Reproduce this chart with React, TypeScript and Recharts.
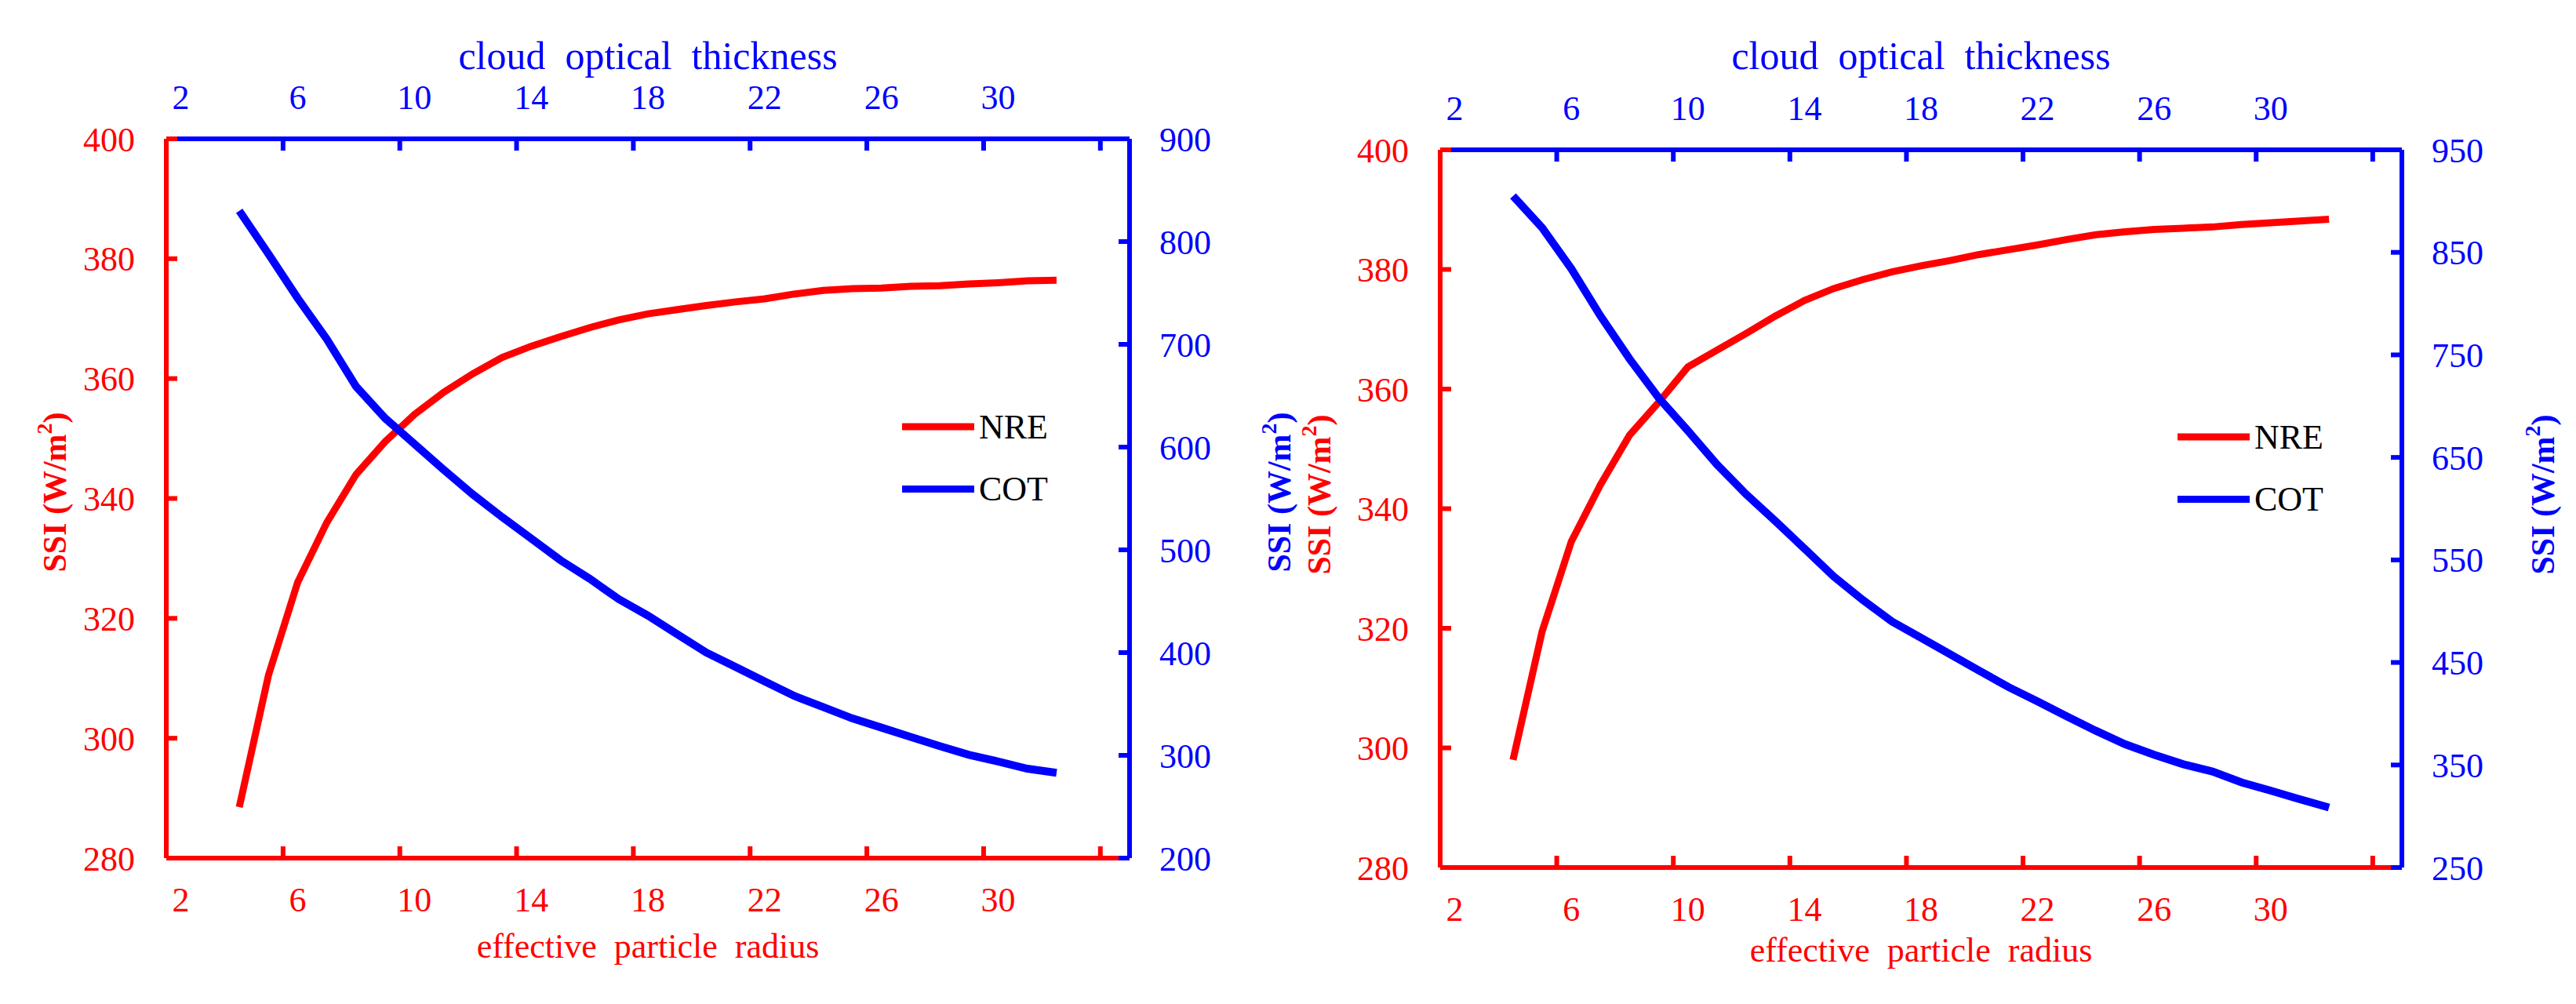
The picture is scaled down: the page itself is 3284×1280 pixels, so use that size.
import React from 'react';
import { LineChart, Line, XAxis, YAxis, Legend } from 'recharts';

const FONT = '"Liberation Serif", "Times New Roman", serif';
const RED = '#FF0000';
const BLUE = '#0000FF';

// x categories (effective particle radius on the bottom axis, cloud optical thickness on the top axis)
const effectiveRadius = [4, 5, 6, 7, 8, 9, 10, 11, 12, 13, 14, 15, 16, 17, 18, 19, 20, 21, 22, 23, 24, 25, 26, 27, 28, 29, 30, 31, 32];
const opticalThickness = [4, 5, 6, 7, 8, 9, 10, 11, 12, 13, 14, 15, 16, 17, 18, 19, 20, 21, 22, 23, 24, 25, 26, 27, 28, 29, 30, 31, 32];

// left panel
const nreLeft = [288.5, 310.5, 326, 336, 344, 349.5, 354, 357.7, 360.8, 363.5, 365.4, 367, 368.5, 369.8, 370.8, 371.5, 372.2, 372.8, 373.3, 374.1, 374.7, 375.0, 375.1, 375.4, 375.5, 375.8, 376.0, 376.3, 376.4];
const cotLeft = [830, 788, 745, 705, 659, 628, 603, 578, 554, 532, 511, 490, 472, 452, 436, 418, 400, 386, 372, 358, 347, 336, 327, 318, 309, 300.5, 294, 287, 283];

// right panel
const nreRight = [298, 319.5, 334.5, 344, 352.3, 357.8, 363.7, 366.5, 369.3, 372.2, 374.8, 376.8, 378.3, 379.6, 380.6, 381.5, 382.5, 383.3, 384.1, 385.0, 385.8, 386.3, 386.7, 386.9, 387.1, 387.5, 387.8, 388.1, 388.4];
const cotRight = [905, 874, 834, 788, 746, 708, 676, 643, 614, 588, 561, 534, 511, 490, 474, 458, 442, 426, 412, 397.5, 383.4, 370.3, 360, 350.7, 343.7, 333, 325, 316.6, 308.5];

// axes
const xDomain = [1.5, 34.5];
const xTickLabels = [2, 6, 10, 14, 18, 22, 26, 30];
const xTickMarks = [5.5, 9.5, 13.5, 17.5, 21.5, 25.5, 29.5, 33.5];
const nreTicks = [280, 300, 320, 340, 360, 380, 400];
const cotTicksLeft = [200, 300, 400, 500, 600, 700, 800, 900];
const cotTicksRight = [250, 350, 450, 550, 650, 750, 850, 950];
const legendOrder = ['NRE', 'COT'];

const xAxisTicks = [...xTickLabels, ...xTickMarks].sort((a, b) => a - b);

const leftRows = effectiveRadius.map((r, i) => ({ radius: r, tau: opticalThickness[i], nre: nreLeft[i], cot: cotLeft[i] }));
const rightRows = effectiveRadius.map((r, i) => ({ radius: r, tau: opticalThickness[i], nre: nreRight[i], cot: cotRight[i] }));

const makeXTick = (color: string, side: 'top' | 'bottom') => (props: any) => {
  const { x, y, payload } = props;
  const v = payload.value;
  const dir = side === 'bottom' ? -1 : 1;
  if (!Number.isInteger(v)) {
    return <line x1={x} x2={x} y1={y} y2={y + dir * 15} stroke={color} strokeWidth={6} />;
  }
  return (
    <text x={x} y={y - dir * 53} textAnchor="middle" dominantBaseline="central" fill={color} fontSize={44} fontFamily={FONT}>
      {v}
    </text>
  );
};

const xTitle = (text: string, color: string, baseline: number, size: number) => (props: any) => {
  const vb = props.viewBox || { x: 0, y: 0, width: 0, height: 0 };
  return (
    <text x={vb.x + vb.width / 2} y={vb.y + baseline} textAnchor="middle" fill={color} fontSize={size} fontFamily={FONT} style={{ whiteSpace: 'pre' }}>
      {text}
    </text>
  );
};

const yTitle = (color: string, dx: number, dy: number) => (props: any) => {
  const vb = props.viewBox || { x: 0, y: 0, width: 0, height: 0 };
  const cx = vb.x + dx;
  const cy = vb.y + vb.height / 2 + dy;
  return (
    <text x={cx} y={cy} transform={`rotate(-90 ${cx} ${cy})`} textAnchor="middle" dominantBaseline="central" fill={color} fontSize={42} fontWeight="bold" fontFamily={FONT}>
      SSI (W/m<tspan dy={-14} fontSize={28}>2</tspan><tspan dy={14}>)</tspan>
    </text>
  );
};

const LegendBox = (props: any) => {
  const payload = [...(props.payload || [])].sort(
    (a: any, b: any) => legendOrder.indexOf(a.value) - legendOrder.indexOf(b.value)
  );
  return (
    <svg width={260} height={140} style={{ display: 'block' }}>
      {payload.map((e: any, i: number) => (
        <g key={i}>
          <line x1={0} x2={92} y1={30 + i * 79.5} y2={30 + i * 79.5} stroke={e.color} strokeWidth={9} />
          <text x={98} y={30 + i * 79.5} dominantBaseline="central" fontSize={44} fontFamily={FONT} fill="#000">
            {e.value}
          </text>
        </g>
      ))}
    </svg>
  );
};

type PanelProps = {
  rows: any[];
  width: number;
  leftW: number;
  rightW: number;
  topH: number;
  bottomH: number;
  cotDomain: number[];
  cotTicks: number[];
  topTitleBase: number;
  bottomTitleBase: number;
  leftLabelDx: number;
  rightLabelDx: number;
  labelDy: number;
  legendLeft: number;
  legendTop: number;
};

const Panel = (p: PanelProps) => (
  <LineChart width={p.width} height={1280} data={p.rows} margin={{ top: 0, right: 0, bottom: 0, left: 0 }}>
    <XAxis
      xAxisId="top"
      orientation="top"
      dataKey="tau"
      type="number"
      domain={xDomain}
      ticks={xAxisTicks}
      interval={0}
      height={p.topH}
      tickLine={false}
      tickSize={0}
      tickMargin={0}
      axisLine={{ stroke: BLUE, strokeWidth: 6 }}
      tick={makeXTick(BLUE, 'top')}
      label={xTitle('cloud\u00A0 optical\u00A0 thickness', BLUE, p.topTitleBase, 50)}
    />
    <XAxis
      xAxisId="bottom"
      orientation="bottom"
      dataKey="radius"
      type="number"
      domain={xDomain}
      ticks={xAxisTicks}
      interval={0}
      height={p.bottomH}
      tickLine={false}
      tickSize={0}
      tickMargin={0}
      axisLine={{ stroke: RED, strokeWidth: 6 }}
      tick={makeXTick(RED, 'bottom')}
      label={xTitle('effective\u00A0 particle\u00A0 radius', RED, p.bottomTitleBase, 44)}
    />
    <YAxis
      yAxisId="left"
      orientation="left"
      width={p.leftW}
      type="number"
      domain={[280, 400]}
      ticks={nreTicks}
      interval={0}
      tickSize={-14}
      tickMargin={54}
      tickLine={{ stroke: RED, strokeWidth: 6 }}
      axisLine={{ stroke: RED, strokeWidth: 6 }}
      tick={{ fill: RED, fontSize: 44, fontFamily: FONT }}
      label={yTitle(RED, p.leftLabelDx, p.labelDy)}
    />
    <YAxis
      yAxisId="right"
      orientation="right"
      width={p.rightW}
      type="number"
      domain={p.cotDomain}
      ticks={p.cotTicks}
      interval={0}
      tickSize={-14}
      tickMargin={52}
      tickLine={{ stroke: BLUE, strokeWidth: 6 }}
      axisLine={{ stroke: BLUE, strokeWidth: 6 }}
      tick={{ fill: BLUE, fontSize: 44, fontFamily: FONT }}
      label={yTitle(BLUE, p.rightLabelDx, p.labelDy)}
    />
    <Legend
      layout="vertical"
      align="center"
      verticalAlign="middle"
      wrapperStyle={{ left: p.legendLeft, top: p.legendTop, width: 260, height: 140 }}
      content={(lp: any) => <LegendBox payload={lp.payload} />}
    />
    <Line
      xAxisId="bottom"
      yAxisId="left"
      type="linear"
      dataKey="nre"
      name="NRE"
      stroke={RED}
      strokeWidth={9}
      dot={false}
      activeDot={false}
      isAnimationActive={false}
    />
    <Line
      xAxisId="top"
      yAxisId="right"
      type="linear"
      dataKey="cot"
      name="COT"
      stroke={BLUE}
      strokeWidth={10}
      dot={false}
      activeDot={false}
      isAnimationActive={false}
    />
  </LineChart>
);

export default function App() {
  return (
    <div style={{ position: 'absolute', left: 0, top: 0, width: 3284, height: 1280, background: '#fff', overflow: 'hidden' }}>
      <div style={{ position: 'absolute', left: 0, top: 0 }}>
        <Panel
          rows={leftRows}
          width={1660}
          leftW={212}
          rightW={220}
          topH={177}
          bottomH={186}
          cotDomain={[200, 900]}
          cotTicks={cotTicksLeft}
          topTitleBase={88}
          bottomTitleBase={127}
          leftLabelDx={70}
          rightLabelDx={191}
          labelDy={-8}
          legendLeft={1150}
          legendTop={513.5}
        />
      </div>
      <div style={{ position: 'absolute', left: 1600, top: 0 }}>
        <Panel
          rows={rightRows}
          width={1684}
          leftW={236}
          rightW={222}
          topH={191}
          bottomH={174}
          cotDomain={[250, 950]}
          cotTicks={cotTicksRight}
          topTitleBase={88}
          bottomTitleBase={120}
          leftLabelDx={82}
          rightLabelDx={180}
          labelDy={-18}
          legendLeft={1175.6}
          legendTop={526.8}
        />
      </div>
    </div>
  );
}
